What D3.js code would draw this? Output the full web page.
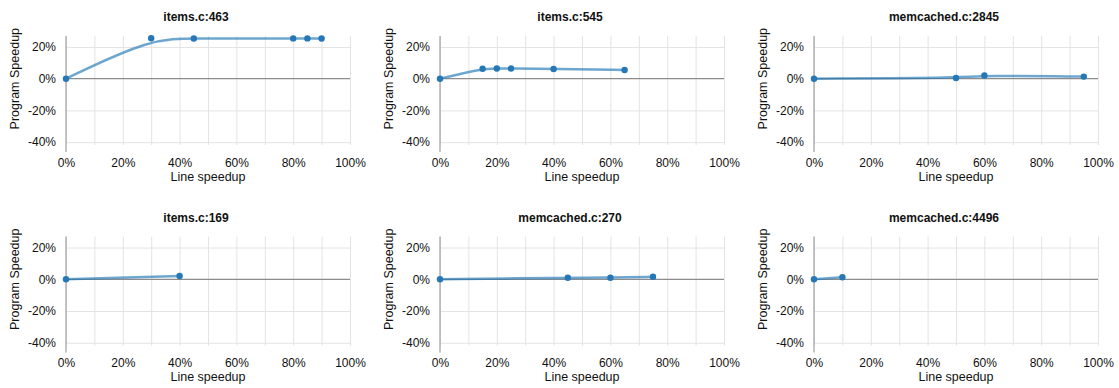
<!DOCTYPE html>
<html>
<head>
<meta charset="utf-8">
<script src="https://cdn.jsdelivr.net/npm/d3@7"></script>
<style>
  body { margin: 0; background: #fff; }
  svg { font-family: "Liberation Sans", Arial, Helvetica, sans-serif; }
  .grid line { stroke: #e3e3e3; stroke-width: 1; }
  .grid path { display: none; }
  .labels path { display: none; }
  .labels text { font-size: 12px; fill: #111; }
</style>
</head>
<body>
<svg id="vis" width="1119" height="388"></svg>
<script>
// one entry per plot (speedups in percent)
var titles = ["items.c:463", "items.c:545", "memcached.c:2845",
              "items.c:169", "memcached.c:270", "memcached.c:4496"];

var lineSpeedup = [
    [0, 30, 45, 80, 85, 90],
    [0, 15, 20, 25, 40, 65],
    [0, 50, 60, 95],
    [0, 40],
    [0, 45, 60, 75],
    [0, 10]
];

var programSpeedup = [
    [0, 25.5, 25.3, 25.4, 25.4, 25.3],
    [0, 6.3, 6.4, 6.4, 6.1, 5.5],
    [0, 0.4, 2.0, 1.3],
    [0, 2.1],
    [0, 1.0, 1.0, 1.6],
    [0, 1.3]
];

var xTicks = [0, 20, 40, 60, 80, 100];
var xGrid = d3.range(0, 101, 10);
var yTicks = [-40, -20, 0, 20];

var panelW = 374, panelH = 200.6;
var margin = {left: 66, top: 36};
var plotW = 284, plotH = 109;

var svg = d3.select("#vis");

var x = d3.scaleLinear().domain([0, 100]).range([0, plotW]);
var y = d3.scaleLinear().domain([-41.8, 26.9]).range([plotH, 0]);
var pct = function(d) { return d + "%"; };

titles.forEach(function(title, i)
{
    var col = i % 3, row = Math.floor(i / 3);
    var g = svg.append("g")
        .attr("transform", "translate(" + (col * panelW + margin.left) + "," + (row * panelH + margin.top) + ")");

    // vertical grid
    g.append("g")
        .attr("class", "grid")
        .attr("transform", "translate(0," + plotH + ")")
        .call(d3.axisBottom(x).tickValues(xGrid).tickSize(plotH).tickSizeOuter(0).tickFormat(""))
        .selectAll("line").attr("y2", -plotH);

    // horizontal grid
    g.append("g")
        .attr("class", "grid")
        .call(d3.axisLeft(y).tickValues(yTicks.filter(function(d) { return d != 0; }))
            .tickSize(-plotW).tickFormat(""));

    // zero line and y axis line
    g.append("line")
        .attr("x1", x(0)).attr("x2", x(100))
        .attr("y1", y(0)).attr("y2", y(0))
        .style("stroke", "#8c8c8c").style("stroke-width", 1.2);
    g.append("line")
        .attr("x1", x(0)).attr("x2", x(0))
        .attr("y1", 0).attr("y2", plotH + 7)
        .style("stroke", "#a0a0a0").style("stroke-width", 1.2);

    // tick labels
    g.append("g")
        .attr("class", "labels")
        .attr("transform", "translate(0," + plotH + ")")
        .call(d3.axisBottom(x).tickValues(xTicks).tickSize(0).tickPadding(13).tickFormat(pct));
    g.append("g")
        .attr("class", "labels")
        .call(d3.axisLeft(y).tickValues(yTicks).tickSize(0).tickPadding(10).tickFormat(pct));

    // title + axis titles
    g.append("text")
        .attr("x", plotW / 2 - 12).attr("y", -15)
        .attr("text-anchor", "middle")
        .style("font-size", "12px").style("font-weight", "bold").style("fill", "#111")
        .text(title);
    g.append("text")
        .attr("x", plotW / 2).attr("y", plotH + 35.5)
        .attr("text-anchor", "middle")
        .style("font-size", "12.5px").style("fill", "#111")
        .text("Line speedup");
    g.append("text")
        .attr("transform", "translate(-47.5," + y(0) + ") rotate(-90)")
        .attr("text-anchor", "middle")
        .style("font-size", "12.5px").style("fill", "#111")
        .text("Program Speedup");

    var pts = lineSpeedup[i].map(function(v, k) { return [v, programSpeedup[i][k]]; });

    var line = d3.line()
        .x(function(d) { return x(d[0]); })
        .y(function(d) { return y(d[1]); })
        .curve(d3.curveBasis);

    g.append("path")
        .datum(pts)
        .attr("d", line)
        .style("fill", "none")
        .style("stroke", "#1f77b4")
        .style("stroke-opacity", 0.65)
        .style("stroke-width", 2.5);

    g.selectAll("circle")
        .data(pts)
        .enter().append("circle")
        .attr("cx", function(d) { return x(d[0]); })
        .attr("cy", function(d) { return y(d[1]); })
        .attr("r", 3.2)
        .style("fill", "#2577b5");
});
</script>
</body>
</html>
